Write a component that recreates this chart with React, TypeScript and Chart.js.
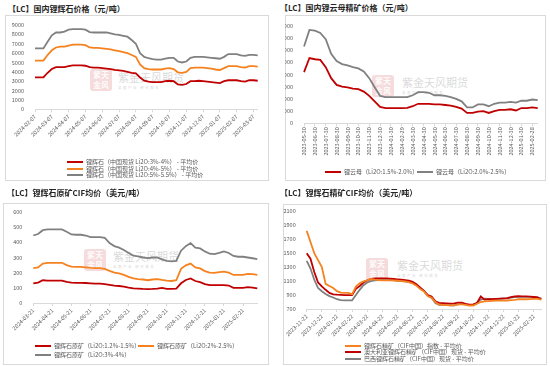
import React, { useEffect, useRef } from 'react';
import { Chart, registerables } from 'chart.js';
Chart.register(...registerables);

const FONT = '"Noto Sans CJK SC", "Noto Sans", sans-serif';
const RED = '#C00000';
const ORANGE = '#F5821F';
const GRAY = '#808080';
const TICK_COLOR = '#595959';
const AXIS_COLOR = '#D9D9D9';

// ---------- Panel 1: 国内锂辉石价格 ----------
const p1Ticks = ['2024-02-07', '2024-03-07', '2024-04-07', '2024-05-07', '2024-06-07', '2024-07-07', '2024-08-07', '2024-09-07', '2024-10-07', '2024-11-07', '2024-12-07', '2025-01-07', '2025-02-07', '2025-03-07'];
const p1Red = [3400, 3400, 3400, 3900, 4300, 4500, 4500, 4500, 4600, 4700, 4700, 4700, 4650, 4500, 4450, 4450, 4400, 4350, 4300, 4200, 4150, 4100, 4000, 3900, 3850, 3400, 3050, 2950, 2900, 2900, 2900, 3000, 3050, 3000, 2650, 2600, 2700, 3000, 3000, 3050, 3000, 2950, 2900, 2850, 2800, 3000, 3100, 3100, 3100, 3000, 2950, 3100, 3100, 3050];
const p1Orange = [5200, 5200, 5200, 5800, 6300, 6600, 6700, 6700, 6800, 6900, 6900, 6900, 6850, 6600, 6550, 6550, 6500, 6450, 6400, 6300, 6200, 6100, 6000, 5800, 5600, 4800, 4400, 4300, 4250, 4250, 4250, 4350, 4400, 4300, 3950, 3900, 4000, 4400, 4450, 4450, 4450, 4400, 4350, 4250, 4200, 4400, 4600, 4600, 4600, 4500, 4450, 4600, 4600, 4550];
const p1Gray = [6500, 6500, 6500, 7200, 7900, 8200, 8200, 8300, 8500, 8550, 8550, 8550, 8500, 8250, 8200, 8200, 8200, 8200, 8100, 8000, 7950, 7850, 7750, 7400, 7000, 6000, 5600, 5450, 5350, 5300, 5300, 5400, 5500, 5500, 5100, 5000, 5100, 5500, 5600, 5600, 5600, 5550, 5500, 5450, 5400, 5600, 5900, 5900, 5900, 5750, 5700, 5800, 5800, 5750];
const p1Names = ['锂辉石（中国现货 Li2O:3%-4%） - 平均价', '锂辉石（中国现货 Li2O:4%-5%） - 平均价', '锂辉石（中国现货 Li2O:5%-5.5%） - 平均价'];

// ---------- Panel 2: 国内锂云母精矿价格 ----------
const p2Ticks = ['2023-05-30', '2023-06-30', '2023-07-30', '2023-08-30', '2023-09-30', '2023-10-30', '2023-11-30', '2023-12-30', '2024-01-30', '2024-02-29', '2024-03-30', '2024-04-30', '2024-05-30', '2024-06-30', '2024-07-30', '2024-08-30', '2024-09-30', '2024-10-30', '2024-11-30', '2024-12-30', '2025-01-30', '2025-02-28'];
const p2Red = [4200, 5350, 5250, 5200, 4600, 3700, 3150, 3000, 2950, 2850, 2800, 2600, 2250, 1800, 1350, 1250, 1250, 1250, 1250, 1270, 1400, 1600, 1600, 1600, 1550, 1550, 1500, 1450, 1350, 1200, 850, 850, 950, 1000, 850, 1000, 1100, 1100, 1150, 1050, 1250, 1250, 1300, 1250];
const p2Gray = [6300, 7650, 7600, 7400, 6900, 5700, 5100, 4850, 4750, 4600, 4500, 4250, 3700, 2950, 2250, 2150, 2150, 2150, 2150, 2150, 2300, 2550, 2550, 2500, 2300, 2300, 2250, 2150, 2000, 1800, 1300, 1300, 1550, 1550, 1400, 1600, 1700, 1700, 1750, 1700, 1850, 1850, 1950, 1900];
const p2Names = ['锂云母（Li2O:1.5%-2.0%）', '锂云母（Li2O:2.0%-2.5%）'];

// ---------- Panel 3: 锂辉石原矿CIF均价 ----------
const p3Ticks = ['2024-03-21', '2024-04-21', '2024-05-21', '2024-06-21', '2024-07-21', '2024-08-21', '2024-09-21', '2024-10-21', '2024-11-21', '2024-12-21', '2025-01-21', '2025-02-21'];
const p3Red = [130, 135, 150, 148, 148, 148, 148, 140, 135, 133, 133, 132, 130, 128, 128, 125, 120, 115, 112, 108, 102, 97, 95, 93, 92, 93, 95, 100, 93, 93, 95, 130, 152, 162, 145, 138, 125, 118, 118, 118, 118, 115, 100, 100, 100, 105, 102, 97];
const p3Orange = [230, 235, 260, 265, 265, 265, 265, 250, 240, 238, 238, 235, 232, 230, 230, 225, 212, 200, 195, 185, 172, 162, 158, 155, 150, 155, 158, 152, 147, 145, 150, 225, 248, 260, 235, 228, 210, 200, 198, 203, 207, 200, 185, 185, 185, 192, 190, 185];
const p3Gray = [445, 455, 480, 485, 485, 485, 485, 470, 452, 450, 450, 445, 435, 435, 435, 430, 395, 375, 365, 350, 330, 312, 307, 300, 296, 300, 300, 288, 278, 275, 278, 345, 375, 395, 365, 360, 340, 325, 322, 330, 340, 330, 310, 305, 305, 300, 295, 290];
const p3Names = ['锂辉石原矿（Li2O:1.2%-1.5%）', '锂辉石原矿（Li2O:2%-2.5%）', '锂辉石原矿（Li2O:3%-4%）'];

// ---------- Panel 4: 锂辉石精矿CIF均价 ----------
const p4Ticks = ['2023-11-22', '2023-12-22', '2024-01-22', '2024-02-22', '2024-03-22', '2024-04-22', '2024-05-22', '2024-06-22', '2024-07-22', '2024-08-22', '2024-09-22', '2024-10-22', '2024-11-22', '2024-12-22', '2025-01-22', '2025-02-22'];
const p4Orange = [1820, 1660, 1500, 1400, 1300, 1060, 1030, 1000, 955, 935, 932, 930, 910, 1020, 1070, 1095, 1110, 1130, 1120, 1115, 1110, 1110, 1110, 1110, 1105, 1100, 1095, 1085, 1065, 1035, 985, 950, 885, 860, 800, 762, 758, 755, 752, 752, 765, 765, 760, 750, 750, 775, 800, 808, 812, 818, 820, 820, 820, 822, 828, 832, 840, 840, 840, 842, 845, 845, 835];
const p4Red = [1500, 1420, 1230, 1080, 1025, 975, 930, 910, 905, 903, 900, 900, 900, 990, 1030, 1080, 1110, 1130, 1140, 1140, 1140, 1138, 1135, 1130, 1125, 1120, 1115, 1105, 1090, 1055, 1005, 960, 900, 880, 810, 787, 783, 780, 777, 780, 790, 790, 775, 762, 765, 785, 880, 835, 840, 840, 845, 850, 852, 855, 870, 882, 885, 882, 880, 876, 872, 865, 840];
const p4Gray = [1390, 1280, 1120, 1000, 955, 915, 885, 865, 840, 828, 825, 825, 825, 900, 975, 1040, 1080, 1100, 1110, 1115, 1115, 1115, 1113, 1110, 1105, 1100, 1095, 1085, 1070, 1045, 1000, 960, 890, 860, 785, 760, 758, 755, 752, 752, 768, 775, 765, 755, 755, 790, 835, 848, 845, 840, 842, 845, 848, 852, 865, 872, 875, 875, 875, 875, 872, 868, 848];
const p4Names = ['锂辉石精矿（CIF中国）指数 - 平均价', '澳大利亚锂辉石精矿（CIF中国）现货 - 平均价', '巴西锂辉石精矿（CIF中国）现货 - 平均价'];

type Series = { label: string; data: number[]; color: string };
type Box = { left: number; top: number; width: number; height: number };
type LegendItem = { x: number; y: number; text: string; color: string };

interface PanelSpec {
  title: string;
  titleX: number;
  titleY: number;
  box: Box;
  yw: number;
  tp: number;
  rp: number;
  xh: number;
  ticks: string[];
  per: number;
  yMin: number;
  yMax: number;
  yStep: number;
  rotation: number;
  series: Series[];
  legend: LegendItem[];
  wm: { lx: number; ly: number; tx: number; ty: number };
}

const panels: PanelSpec[] = [
  {
    title: '【LC】国内锂辉石价格（元/吨）', titleX: 8, titleY: 9,
    box: { left: 5, top: 15, width: 264, height: 166 },
    yw: 30, tp: 10, rp: 11.3, xh: 71.7,
    ticks: p1Ticks, per: 4, yMin: 0, yMax: 9000, yStep: 1000, rotation: 45,
    series: [
      { label: p1Names[0], data: p1Red, color: RED },
      { label: p1Names[1], data: p1Orange, color: ORANGE },
      { label: p1Names[2], data: p1Gray, color: GRAY },
    ],
    legend: [
      { x: 67, y: 162, text: p1Names[0], color: RED },
      { x: 67, y: 168.5, text: p1Names[1], color: ORANGE },
      { x: 67, y: 175, text: p1Names[2], color: GRAY },
    ],
    wm: { lx: 90, ly: 69, tx: 118, ty: 71 },
  },
  {
    title: '【LC】国内锂云母精矿价格（元/吨）', titleX: 280, titleY: 7.5,
    box: { left: 285, top: 15, width: 261, height: 166 },
    yw: 19, tp: 10.7, rp: 8.3, xh: 57.7,
    ticks: p2Ticks, per: 2, yMin: 0, yMax: 8000, yStep: 1000, rotation: 90,
    series: [
      { label: p2Names[0], data: p2Red, color: RED },
      { label: p2Names[1], data: p2Gray, color: GRAY },
    ],
    legend: [
      { x: 325, y: 171.5, text: p2Names[0], color: RED },
      { x: 417, y: 171.5, text: p2Names[1], color: GRAY },
    ],
    wm: { lx: 372, ly: 75, tx: 402, ty: 76 },
  },
  {
    title: '【LC】锂辉石原矿CIF均价（美元/吨）', titleX: 7, titleY: 193,
    box: { left: 3, top: 203, width: 266, height: 162 },
    yw: 30.3, tp: 9, rp: 11.7, xh: 62,
    ticks: p3Ticks, per: 4, yMin: 0, yMax: 600, yStep: 100, rotation: 45,
    series: [
      { label: p3Names[0], data: p3Red, color: RED },
      { label: p3Names[1], data: p3Orange, color: ORANGE },
      { label: p3Names[2], data: p3Gray, color: GRAY },
    ],
    legend: [
      { x: 35, y: 346.3, text: p3Names[0], color: RED },
      { x: 138, y: 346.3, text: p3Names[1], color: ORANGE },
      { x: 35, y: 354.7, text: p3Names[2], color: GRAY },
    ],
    wm: { lx: 84, ly: 249, tx: 113, ty: 250 },
  },
  {
    title: '【LC】锂辉石精矿CIF均价（美元/吨）', titleX: 280, titleY: 193,
    box: { left: 283, top: 204, width: 264, height: 161 },
    yw: 23.7, tp: 7.3, rp: 2.7, xh: 56,
    ticks: p4Ticks, per: 4, yMin: 700, yMax: 2100, yStep: 200, rotation: 45,
    series: [
      { label: p4Names[0], data: p4Orange, color: ORANGE },
      { label: p4Names[1], data: p4Red, color: RED },
      { label: p4Names[2], data: p4Gray, color: GRAY },
    ],
    legend: [
      { x: 345, y: 345.5, text: p4Names[0], color: ORANGE },
      { x: 345, y: 352.3, text: p4Names[1], color: RED },
      { x: 345, y: 359, text: p4Names[2], color: GRAY },
    ],
    wm: { lx: 366, ly: 258, tx: 397, ty: 259 },
  },
];

function ChartPanel({ spec }: { spec: PanelSpec }) {
  const ref = useRef<HTMLCanvasElement | null>(null);
  useEffect(() => {
    if (!ref.current) return;
    const n = spec.series[0].data.length;
    const labels = Array.from({ length: n }, (_, i) =>
      i % spec.per === 0 && spec.ticks[i / spec.per] ? spec.ticks[i / spec.per] : ''
    );
    const chart = new Chart(ref.current, {
      type: 'line',
      data: {
        labels,
        datasets: spec.series.map((s) => ({
          label: s.label,
          data: s.data,
          borderColor: s.color,
          backgroundColor: s.color,
          borderWidth: 1.8,
          pointRadius: 0,
          tension: 0,
          fill: false,
        })),
      },
      options: {
        animation: false,
        responsive: false,
        events: [],
        layout: { autoPadding: false, padding: { left: 0, top: spec.tp, right: spec.rp, bottom: 0 } },
        plugins: { legend: { display: false }, tooltip: { enabled: false }, title: { display: false } },
        scales: {
          x: {
            type: 'category',
            offset: false,
            afterFit: (s: any) => { s.height = spec.xh; },
            border: { display: true, color: AXIS_COLOR, width: 1 },
            grid: {
              drawOnChartArea: false,
              drawTicks: true,
              tickLength: 3,
              offset: false,
              color: (ctx: any) => (labels[ctx.index] ? AXIS_COLOR : 'rgba(0,0,0,0)'),
            },
            ticks: {
              autoSkip: false,
              minRotation: spec.rotation,
              maxRotation: spec.rotation,
              padding: 1,
              color: TICK_COLOR,
              font: { family: FONT, size: 5.5 },
              callback: (_v: any, i: number) => labels[i],
            },
          },
          y: {
            min: spec.yMin,
            max: spec.yMax,
            afterFit: (s: any) => { s.width = spec.yw; },
            border: { display: false },
            grid: { display: false },
            ticks: {
              stepSize: spec.yStep,
              autoSkip: false,
              padding: 3,
              color: TICK_COLOR,
              font: { family: FONT, size: 5.5 },
              callback: (v: any) => String(v),
            },
          },
        },
      } as any,
    });
    return () => chart.destroy();
  }, [spec]);

  const b = spec.box;
  return (
    <>
      <div style={{ position: 'absolute', left: spec.titleX, top: spec.titleY - 5, fontFamily: FONT, fontSize: 8, lineHeight: '10px', fontWeight: 'bold', color: '#262626', whiteSpace: 'nowrap' }}>
        {spec.title}
      </div>
      <div style={{ position: 'absolute', left: b.left, top: b.top, width: b.width - 2, height: b.height - 2, border: '1px solid #D9D9D9', background: '#fff' }} />
      {/* watermark */}
      <div style={{ position: 'absolute', left: spec.wm.lx, top: spec.wm.ly, width: 22, height: 22, borderRadius: 3, background: 'rgba(210,90,90,0.22)', color: 'rgba(255,255,255,0.9)', fontFamily: FONT, fontSize: 8, lineHeight: '10px', textAlign: 'center', fontWeight: 'bold', display: 'flex', flexWrap: 'wrap', alignItems: 'center', justifyContent: 'center' }}>
        <span style={{ width: 20 }}>紫天<br />金风</span>
      </div>
      <div style={{ position: 'absolute', left: spec.wm.tx, top: spec.wm.ty, fontFamily: FONT, fontSize: 11, lineHeight: '13px', color: 'rgba(170,170,170,0.45)', whiteSpace: 'nowrap' }}>
        紫金天风期货
      </div>
      <div style={{ position: 'absolute', left: spec.wm.tx, top: spec.wm.ty + 14, fontFamily: FONT, fontSize: 3.5, lineHeight: '5px', color: 'rgba(170,170,170,0.5)', whiteSpace: 'nowrap', letterSpacing: 1.5 }}>
        全面产业  研究服务
      </div>
      <canvas ref={ref} width={b.width} height={b.height} style={{ position: 'absolute', left: b.left, top: b.top, width: b.width, height: b.height }} />
      {spec.legend.map((l, k) => (
        <React.Fragment key={k}>
          <div style={{ position: 'absolute', left: l.x, top: l.y - 1, width: 16, height: 2, background: l.color }} />
          <div style={{ position: 'absolute', left: l.x + 19, top: l.y - 4, fontFamily: FONT, fontSize: 6, lineHeight: '8px', color: TICK_COLOR, whiteSpace: 'nowrap' }}>
            {l.text}
          </div>
        </React.Fragment>
      ))}
    </>
  );
}

export default function App() {
  return (
    <div style={{ position: 'fixed', left: 0, top: 0, width: 550, height: 366, background: '#fff', overflow: 'hidden' }}>
      {panels.map((p, i) => (
        <ChartPanel key={i} spec={p} />
      ))}
    </div>
  );
}
